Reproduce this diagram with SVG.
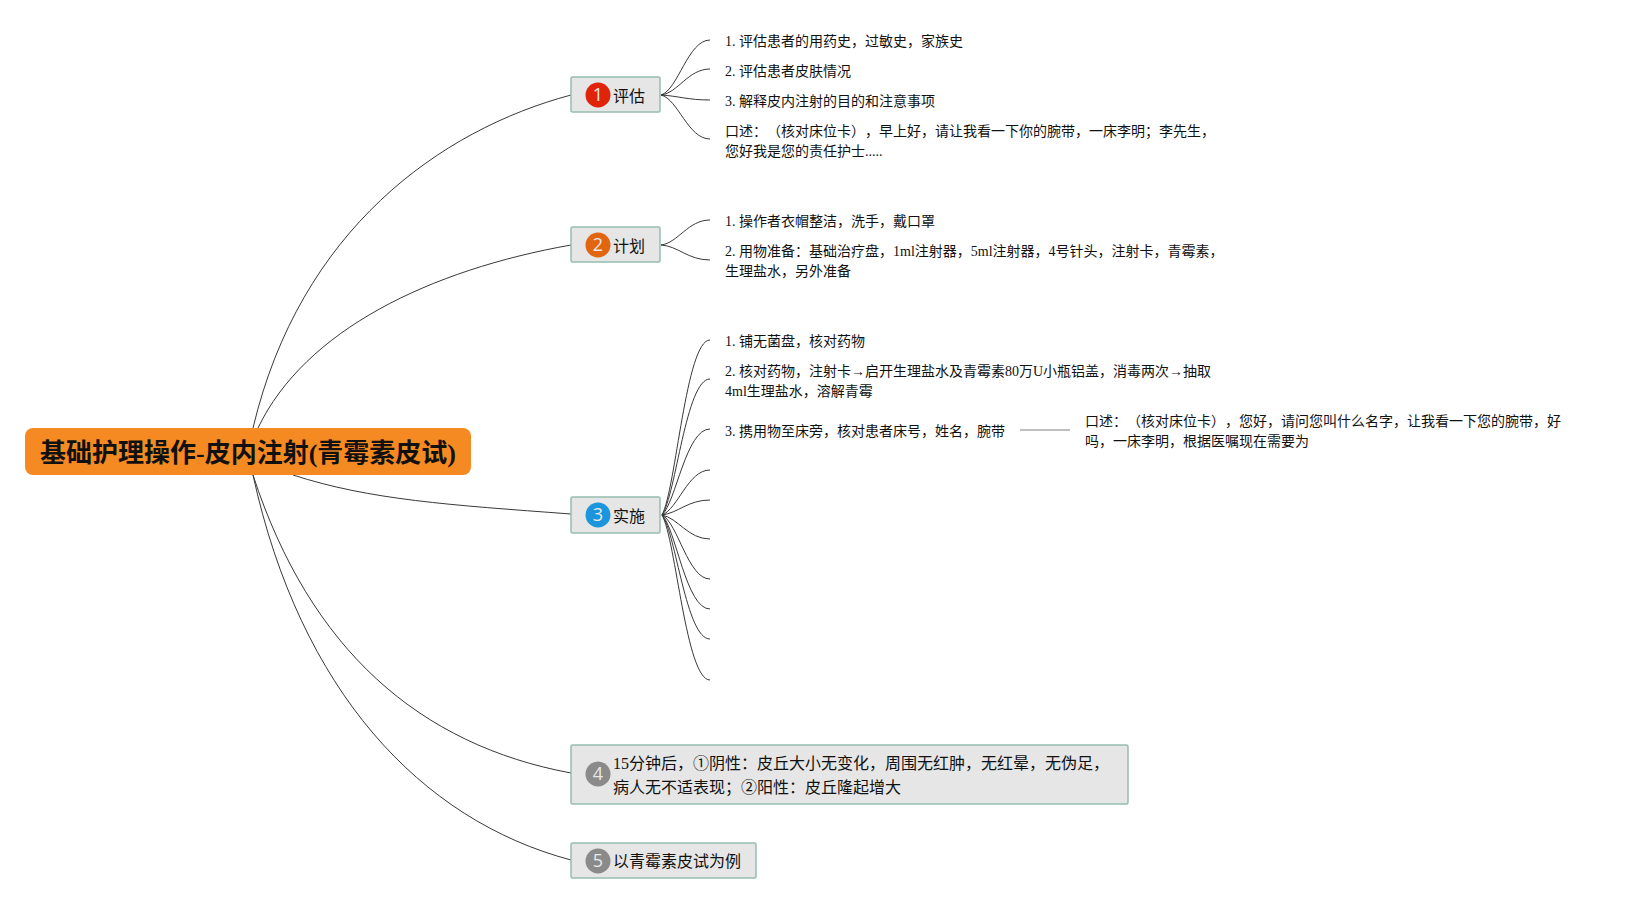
<svg xmlns="http://www.w3.org/2000/svg" width="1645" height="903" viewBox="0 0 1645 903">
<style>
text{font-family:"Liberation Serif","Noto Sans CJK SC",serif;fill:#111;text-spacing-trim:space-all}
.leaf{font-size:14px}
.t{font-size:16px}
.box{fill:#e6e6e6;stroke:#95bdb0;stroke-width:1.5}
.num{font-family:"Open Sans","Liberation Sans",sans-serif;font-size:18px;fill:#e8e8e8;text-anchor:middle}
.c{fill:none;stroke:#383838;stroke-width:1}
.g{fill:none;stroke:#aaa;stroke-width:1.5}
</style>
<rect width="1645" height="903" fill="#fff"/>
<g id="connectors">
<path class="c" d="M253 428C300 230 440 130 571 95"/>
<path class="c" d="M258 428C305 330 430 270 571 245"/>
<path class="c" d="M293 475C370 500 450 505 571 514"/>
<path class="c" d="M253 475C310 650 420 745 571 773"/>
<path class="c" d="M253 475C300 690 420 820 571 860"/>
<path class="c" d="M661 95C678 90 688 40 710 40"/>
<path class="c" d="M661 95C678 93 688 69 710 69"/>
<path class="c" d="M661 95C678 96 688 100 710 100"/>
<path class="c" d="M661 95C678 99 688 139 710 139"/>
<path class="c" d="M661 245C678 243 688 220 710 220"/>
<path class="c" d="M661 245C678 246 688 260 710 260"/>
<path class="c" d="M662 515C676 489 686 340 710 340"/>
<path class="c" d="M662 515C676 495 686 379 710 379"/>
<path class="c" d="M662 515C676 502 686 429 710 429"/>
<path class="c" d="M662 515C678 509 688 470 710 470"/>
<path class="c" d="M662 515C678 513 688 500 710 500"/>
<path class="c" d="M662 515C678 518 688 539 710 539"/>
<path class="c" d="M662 515C678 523 688 579 710 579"/>
<path class="c" d="M662 515C676 529 686 609 710 609"/>
<path class="c" d="M662 515C676 533 686 639 710 639"/>
<path class="c" d="M662 515C676 540 686 680 710 680"/>
<path class="g" d="M1020 430H1070"/>
</g>
<g id="root">
<rect x="25" y="428" width="446" height="47" rx="8" fill="#f68a22"/>
<text x="40" y="462" font-size="26" font-weight="700">基础护理操作-皮内注射(青霉素皮试)</text>
</g>
<g id="node1">
<rect class="box" x="571" y="77" width="89" height="35" rx="1.500"/>
<circle cx="598" cy="95" r="12.500" fill="#e0240a"/>
<text class="num" x="598" y="101">1</text>
<text class="t" x="613" y="102">评估</text>
</g>
<g id="leaf1-1"><text class="leaf" x="725" y="46">1. 评估患者的用药史，过敏史，家族史</text></g>
<g id="leaf1-2"><text class="leaf" x="725" y="76">2. 评估患者皮肤情况</text></g>
<g id="leaf1-3"><text class="leaf" x="725" y="106">3. 解释皮内注射的目的和注意事项</text></g>
<g id="leaf1-4"><text class="leaf" x="725" y="136">口述：（核对床位卡），早上好，请让我看一下你的腕带，一床李明；李先生，</text><text class="leaf" x="725" y="156">您好我是您的责任护士.....</text></g>
<g id="node2">
<rect class="box" x="571" y="227" width="89" height="35" rx="1.500"/>
<circle cx="598" cy="245" r="12.500" fill="#e2660f"/>
<text class="num" x="598" y="251">2</text>
<text class="t" x="613" y="252">计划</text>
</g>
<g id="leaf2-1"><text class="leaf" x="725" y="226">1. 操作者衣帽整洁，洗手，戴口罩</text></g>
<g id="leaf2-2"><text class="leaf" x="725" y="256">2. 用物准备：基础治疗盘，1ml注射器，5ml注射器，4号针头，注射卡，青霉素，</text><text class="leaf" x="725" y="276">生理盐水，另外准备</text></g>
<g id="node3">
<rect class="box" x="571" y="497" width="89" height="36" rx="1.500"/>
<circle cx="598" cy="515" r="12.500" fill="#1b96dc"/>
<text class="num" x="598" y="521">3</text>
<text class="t" x="613" y="522">实施</text>
</g>
<g id="leaf3-1"><text class="leaf" x="725" y="346">1. 铺无菌盘，核对药物</text></g>
<g id="leaf3-2"><text class="leaf" x="725" y="376">2. 核对药物，注射卡→启开生理盐水及青霉素80万U小瓶铝盖，消毒两次→抽取</text><text class="leaf" x="725" y="396">4ml生理盐水，溶解青霉</text></g>
<g id="leaf3-3"><text class="leaf" x="725" y="436">3. 携用物至床旁，核对患者床号，姓名，腕带</text></g>
<g id="leaf3-3-1"><text class="leaf" x="1085" y="426">口述：（核对床位卡），您好，请问您叫什么名字，让我看一下您的腕带，好</text><text class="leaf" x="1085" y="446">吗，一床李明，根据医嘱现在需要为</text></g>
<g id="node4">
<rect class="box" x="571" y="745" width="557" height="59" rx="1.500"/>
<circle cx="598" cy="774" r="12.500" fill="#8a8a8a"/>
<text class="num" x="598" y="780">4</text>
<text class="t" x="613" y="769">15分钟后，①阴性：皮丘大小无变化，周围无红肿，无红晕，无伪足，</text>
<text class="t" x="613" y="793">病人无不适表现；②阳性：皮丘隆起增大</text>
</g>
<g id="node5">
<rect class="box" x="571" y="843" width="185" height="35" rx="1.500"/>
<circle cx="598" cy="861" r="12.500" fill="#8a8a8a"/>
<text class="num" x="598" y="867">5</text>
<text class="t" x="613" y="867">以青霉素皮试为例</text>
</g>
</svg>
